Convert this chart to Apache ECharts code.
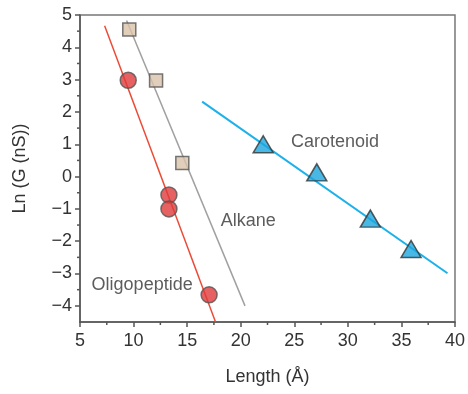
<!DOCTYPE html>
<html><head><meta charset="utf-8">
<script src="https://cdn.jsdelivr.net/npm/echarts@6/dist/echarts.min.js"></script>
<style>html,body{margin:0;padding:0;background:#fff}#c{width:468px;height:394px}</style>
</head><body><div id="c"></div>
<script>
// Data
const alkanePoints = [[9.6, 4.55], [12.1, 2.97], [14.55, 0.42]];
const oligoPoints = [[9.5, 2.98], [13.3, -0.57], [13.3, -1.0], [17.05, -3.66]];
const caroPoints = [[22.1, 1.0], [27.1, 0.13], [32.1, -1.3], [35.9, -2.24]];
const alkaneFit = [[9.35, 4.83], [20.4, -4.0]];
const oligoFit = [[7.3, 4.67], [17.65, -4.5]];
const caroFit = [[16.4, 2.32], [39.3, -2.99]];
const seriesLabels = [
  {name: 'Carotenoid', pos: [28.8, 1.08]},
  {name: 'Alkane', pos: [20.7, -1.39]},
  {name: 'Oligopeptide', pos: [10.8, -3.37]}
];
const xTicks = [5, 10, 15, 20, 25, 30, 35, 40];
const xMinorTicks = [7.5, 12.5, 17.5, 22.5, 27.5, 32.5, 37.5];
const yTicks = [-4, -3, -2, -1, 0, 1, 2, 3, 4, 5];
const yMinorTicks = [-3.5, -2.5, -1.5, -0.5, 0.5, 1.5, 2.5, 3.5, 4.5];
const X_MIN = 5, X_MAX = 40, Y_MIN = -4.5, Y_MAX = 5;

const FONT = '"Liberation Sans", Arial, sans-serif';
const AX = '#555';
const chart = echarts.init(document.getElementById('c'), null, {renderer: 'canvas'});
const lbl = {color: '#333', fontSize: 18, fontFamily: FONT};
const fmtNum = v => (v < 0 ? '\u2212' + Math.abs(v) : String(v));

function minorTickSeries(values, dim) {
  return {
    type: 'custom', silent: true, clip: false, z: 5,
    data: values.map(v => dim === 'x' ? [v, Y_MIN] : [X_MIN, v]),
    renderItem: (params, api) => {
      const p = api.coord([api.value(0), api.value(1)]);
      const shape = dim === 'x'
        ? {x1: p[0], y1: p[1], x2: p[0], y2: p[1] + 3}
        : {x1: p[0] - 3, y1: p[1], x2: p[0], y2: p[1]};
      return {type: 'line', shape, style: {stroke: AX, lineWidth: 1.5}};
    }
  };
}

chart.setOption({
  animation: false,
  grid: {left: 80, right: 12, top: 15, bottom: 72, show: true, borderColor: '#777', borderWidth: 1.5},
  xAxis: {
    type: 'value', min: X_MIN, max: X_MAX, interval: 5,
    name: 'Length (Å)', nameLocation: 'middle', nameGap: 46,
    nameTextStyle: {color: '#333', fontSize: 18, fontFamily: FONT},
    axisLine: {show: true, onZero: false, lineStyle: {color: AX, width: 1.5}},
    axisTick: {show: true, length: 5, customValues: xTicks, lineStyle: {color: AX, width: 1.5}},
    axisLabel: Object.assign({}, lbl, {margin: 10, customValues: xTicks, formatter: fmtNum}),
    splitLine: {show: false}
  },
  yAxis: {
    type: 'value', min: Y_MIN, max: Y_MAX, interval: 0.5,
    name: 'Ln (G (nS))', nameLocation: 'middle', nameGap: 51,
    nameTextStyle: {color: '#333', fontSize: 18, fontFamily: FONT},
    axisLine: {show: true, onZero: false, lineStyle: {color: AX, width: 1.5}},
    axisTick: {show: true, length: 5, customValues: yTicks, lineStyle: {color: AX, width: 1.5}},
    axisLabel: Object.assign({}, lbl, {margin: 8, customValues: yTicks, formatter: fmtNum}),
    splitLine: {show: false}
  },
  series: [
    {type: 'line', data: alkaneFit, symbol: 'none', lineStyle: {color: '#a0a0a0', width: 1.5}, z: 2},
    {type: 'line', data: oligoFit, symbol: 'none', lineStyle: {color: '#ec4a35', width: 1.5}, z: 2},
    {type: 'line', data: caroFit, symbol: 'none', lineStyle: {color: '#1cb1ea', width: 2}, z: 2},
    {type: 'scatter', data: alkanePoints, symbol: 'rect', symbolSize: 13,
      itemStyle: {color: '#d9c3aa', borderColor: '#555', borderWidth: 1.5}, z: 3},
    {type: 'scatter', data: oligoPoints, symbol: 'circle', symbolSize: 16,
      itemStyle: {color: '#e03a3a', borderColor: '#555', borderWidth: 1.5}, z: 3},
    {type: 'scatter', data: caroPoints, symbol: 'triangle', symbolSize: [20, 17],
      itemStyle: {color: '#1ba6de', borderColor: '#333', borderWidth: 1.5}, z: 3},
    {type: 'scatter', data: seriesLabels.map(d => ({value: d.pos, name: d.name})), symbolSize: 0,
      label: {show: true, position: 'inside', formatter: p => p.name, color: '#333', fontSize: 18, fontFamily: FONT}, z: 4},
    minorTickSeries(xMinorTicks, 'x'),
    minorTickSeries(yMinorTicks, 'y')
  ]
});
</script></body></html>
